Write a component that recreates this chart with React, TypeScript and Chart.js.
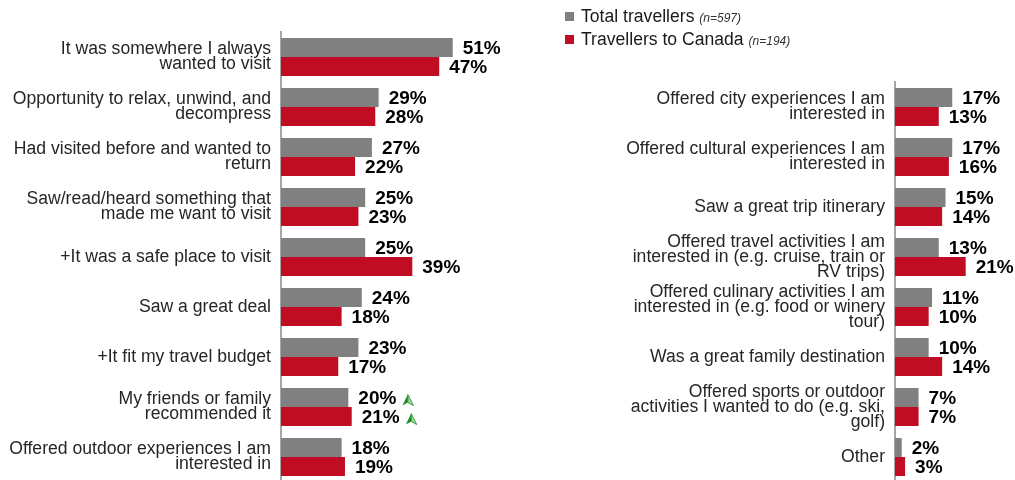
import React, { useEffect, useRef } from "react";
import { Chart, registerables } from "chart.js";

Chart.register(...registerables);

const FONT = '"Liberation Sans", Arial, sans-serif';
const GRAY = "#808080";
const RED = "#C00D23";

const seriesNames = ["Total travellers", "Travellers to Canada"];
const seriesSamples = ["(n=597)", "(n=194)"];

const leftCategories = [
  ["It was somewhere I always", "wanted to visit"],
  ["Opportunity to relax, unwind, and", "decompress"],
  ["Had visited before and wanted to", "return"],
  ["Saw/read/heard something that", "made me want to visit"],
  "+It was a safe place to visit",
  "Saw a great deal",
  "+It fit my travel budget",
  ["My friends or family", "recommended it"],
  ["Offered outdoor experiences I am", "interested in"],
];
const leftTotal = [51, 29, 27, 25, 25, 24, 23, 20, 18];
const leftCanada = [47, 28, 22, 23, 39, 18, 17, 21, 19];
const leftTotalUp = [false, false, false, false, false, false, false, true, false];
const leftCanadaUp = [false, false, false, false, false, false, false, true, false];

const rightCategories = [
  ["Offered city experiences I am", "interested in"],
  ["Offered cultural experiences I am", "interested in"],
  "Saw a great trip itinerary",
  ["Offered travel activities I am", "interested in (e.g. cruise, train or", "RV trips)"],
  ["Offered culinary activities I am", "interested in (e.g. food or winery", "tour)"],
  "Was a great family destination",
  ["Offered sports or outdoor", "activities I wanted to do (e.g. ski,", "golf)"],
  "Other",
];
const rightTotal = [17, 17, 15, 13, 11, 10, 7, 2];
const rightCanada = [13, 16, 14, 21, 10, 14, 7, 3];
const rightTotalUp = [false, false, false, false, false, false, false, false];
const rightCanadaUp = [false, false, false, false, false, false, false, false];

function drawArrow(ctx: CanvasRenderingContext2D, x: number, bottom: number) {
  const w = 11;
  const h = 11;
  const cx = x + w / 2;
  const top = bottom - h;
  const notch = bottom - 3;
  ctx.beginPath();
  ctx.moveTo(cx, top);
  ctx.lineTo(x, bottom);
  ctx.lineTo(cx, notch);
  ctx.closePath();
  ctx.fillStyle = "#1e8a2a";
  ctx.fill();
  ctx.beginPath();
  ctx.moveTo(cx, top);
  ctx.lineTo(x + w, bottom);
  ctx.lineTo(cx, notch);
  ctx.closePath();
  ctx.fillStyle = "#9ed9a0";
  ctx.fill();
  ctx.strokeStyle = "#1e8a2a";
  ctx.lineWidth = 0.8;
  ctx.stroke();
}

const valueLabels = {
  id: "valueLabels",
  afterDatasetsDraw(chart: any) {
    const ctx = chart.ctx as CanvasRenderingContext2D;
    const ups = chart.options.plugins.valueLabels.ups as boolean[][];
    ctx.save();
    ctx.font = `bold 19px ${FONT}`;
    ctx.textAlign = "left";
    ctx.textBaseline = "middle";
    chart.data.datasets.forEach((ds: any, di: number) => {
      const meta = chart.getDatasetMeta(di);
      meta.data.forEach((el: any, i: number) => {
        const txt = `${ds.data[i]}%`;
        const x = el.x + 10;
        const y = el.y + 1.5;
        ctx.fillStyle = "#000";
        ctx.fillText(txt, x, y);
        if (ups && ups[di] && ups[di][i]) {
          const w = ctx.measureText(txt).width;
          drawArrow(ctx, x + w + 6, y + 6.5);
        }
      });
    });
    ctx.restore();
  },
};

function makeConfig(
  labels: any[],
  total: number[],
  canada: number[],
  upT: boolean[],
  upC: boolean[],
  max: number,
  axisWidth: number,
  padTop: number,
  padRight: number
): any {
  return {
    type: "bar",
    data: {
      labels,
      datasets: [
        { label: seriesNames[0], data: total, backgroundColor: GRAY },
        { label: seriesNames[1], data: canada, backgroundColor: RED },
      ],
    },
    plugins: [valueLabels],
    options: {
      indexAxis: "y",
      animation: false,
      responsive: false,
      devicePixelRatio: 1,
      events: [],
      layout: { padding: { top: padTop, right: padRight, left: 0, bottom: 0 } },
      datasets: { bar: { categoryPercentage: 0.76, barPercentage: 1 } },
      plugins: {
        legend: { display: false },
        tooltip: { enabled: false },
        valueLabels: { ups: [upT, upC] },
      },
      scales: {
        x: { display: false, min: 0, max },
        y: {
          afterFit(scale: any) {
            scale.width = axisWidth;
            scale.paddingTop = 0;
            scale.paddingBottom = 0;
          },
          grid: { display: false, drawTicks: false },
          border: { display: true, color: "#a6a6a6", width: 2 },
          ticks: {
            padding: 10,
            color: "#262626",
            font: { family: FONT, size: 17.6, lineHeight: 0.85 },
            autoSkip: false,
          },
        },
      },
    },
  };
}

export default function App() {
  const leftRef = useRef<HTMLCanvasElement>(null);
  const rightRef = useRef<HTMLCanvasElement>(null);

  useEffect(() => {
    const left = new Chart(
      leftRef.current as HTMLCanvasElement,
      makeConfig(leftCategories, leftTotal, leftCanada, leftTotalUp, leftCanadaUp, 60, 281, 32, 77)
    );
    const right = new Chart(
      rightRef.current as HTMLCanvasElement,
      makeConfig(rightCategories, rightTotal, rightCanada, rightTotalUp, rightCanadaUp, 30, 335, 82, 19)
    );
    return () => {
      left.destroy();
      right.destroy();
    };
  }, []);

  const legendRow = (i: number, top: number, color: string) => (
    <div style={{ position: "absolute", left: 565, top, height: 20, whiteSpace: "nowrap" }}>
      <span
        style={{
          position: "absolute",
          left: 0,
          top: 4,
          width: 9,
          height: 9,
          background: color,
        }}
      />
      <span
        style={{
          position: "absolute",
          left: 16,
          top: 0,
          fontFamily: FONT,
          fontSize: 17.6,
          lineHeight: "17px",
          color: "#1a1a1a",
        }}
      >
        {seriesNames[i]}{" "}
        <span style={{ fontStyle: "italic", fontSize: 12, color: "#333" }}>{seriesSamples[i]}</span>
      </span>
    </div>
  );

  return (
    <div
      style={{
        position: "fixed",
        left: 0,
        top: 0,
        width: 1015,
        height: 480,
        overflow: "hidden",
        background: "#fff",
      }}
    >
      <canvas
        ref={leftRef}
        width={560}
        height={482}
        style={{ position: "absolute", left: 0, top: 0, width: 560, height: 482 }}
      />
      <canvas
        ref={rightRef}
        width={455}
        height={482}
        style={{ position: "absolute", left: 560, top: 0, width: 455, height: 482 }}
      />
      {legendRow(0, 8, GRAY)}
      {legendRow(1, 31, RED)}
    </div>
  );
}
